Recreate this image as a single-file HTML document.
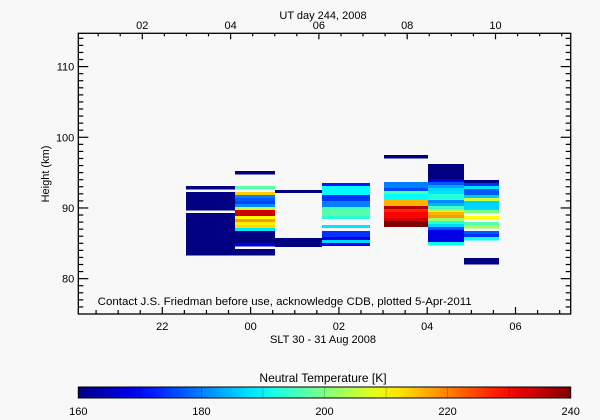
<!DOCTYPE html>
<html><head><meta charset="utf-8"><style>
html,body{margin:0;padding:0;background:#f8f8f8;}
svg{display:block;font-family:"Liberation Sans",sans-serif;}
</style></head><body>
<svg id="chart" width="600" height="420" viewBox="0 0 600 420" xmlns="http://www.w3.org/2000/svg">
<rect x="0" y="0" width="600" height="420" fill="#f8f8f8"/>
<g id="cells" shape-rendering="crispEdges"></g>
<g id="axes"></g>
<defs><linearGradient id="jet" x1="0" x2="1" y1="0" y2="0" id2="jet"></linearGradient></defs>
</svg>
<script>
// ---- data ----
const colStart = [-1.46, -0.353, 0.553, 1.617, 3.021, 4.018, 4.833];   // SLT hours (rel. to 00)
const colEnd   = [-0.353, 0.553, 1.617, 2.704, 4.018, 4.833, 5.626];
const colTop   = [93.11, 95.23, 92.55, 93.54, 97.50, 96.22, 93.96];    // km
const binSize = 0.4243; // km
const colValues = [
 [160,null,160,160,160,160,160,160,null,160,160,160,160,160,160,160,160,160,160,160,160,160,160],
 [160,null,null,null,null,197,null,214,180,177,175,181,205,234,234,210,218,211,213,188,160,160,160,160,167,null,160,160],
 [160,null,null,null,null,null,null,null,null,null,null,null,null,null,null,null,160,160,160],
 [172,190,190,190,174,174,180,180,195,197,197,193,null,null,188,null,174,174,168,187,170],
 [160,null,null,null,null,null,null,null,null,180,180,176,196,190,190,216,216,236,227,230,230,234,240,240],
 [160,160,160,160,160,168,177,183,187,188,193,193,181,184,195,205,216,218,202,193,187,176,168,168,168,168,191],
 [160,174,188,177,177,186,206,186,187,187,200,null,210,null,197,202,null,177,174,191,null,null,null,null,null,null,160,160]
];
const yTicks = [80, 90, 100, 110];
const xTicksSLT = [-2, 0, 2, 4, 6];
const xTickLabels = ["22", "00", "02", "04", "06"];
const utTicks = [2, 4, 6, 8, 10];
const utTickLabels = ["02", "04", "06", "08", "10"];
const cbTicks = [160, 180, 200, 220, 240];

const vMin = 160, vMax = 240;
const L = 78.3, R = 570.7, T = 33.3, B = 314;
const hMin = 75, hMax = 80 + (278.7 - T) / 7.07;
const sMin = -2 - (162.3 - L) / 44.15, sMax = sMin + (R - L) / 44.15;
const uMin = 2 - (142.3 - L) / 44.15, uMax = uMin + (R - L) / 44.15;
const xS = s => L + (s - sMin) / (sMax - sMin) * (R - L);
const xU = u => L + (u - uMin) / (uMax - uMin) * (R - L);
const yH = h => B - (h - hMin) / (hMax - hMin) * (B - T);

function jet(v){
  const t = Math.max(0, Math.min(1, (v - vMin) / (vMax - vMin)));
  const c = x => Math.round(255 * Math.max(0, Math.min(1, x)));
  return `rgb(${c(1.5 - Math.abs(4*t - 3))},${c(1.5 - Math.abs(4*t - 2))},${c(1.5 - Math.abs(4*t - 1))})`;
}
const NS = "http://www.w3.org/2000/svg";
function mk(tag, attrs, parent){
  const e = document.createElementNS(NS, tag);
  for (const k in attrs) e.setAttribute(k, attrs[k]);
  parent.appendChild(e); return e;
}
const cells = document.getElementById('cells');
colValues.forEach((vals, ci) => {
  vals.forEach((v, bi) => {
    if (v === null) return;
    const hTop = colTop[ci] - bi * binSize, hBot = hTop - binSize;
    const x0 = xS(colStart[ci]), x1 = xS(colEnd[ci]);
    const r = mk('rect', {x: x0, y: yH(hTop), width: x1 - x0, height: yH(hBot) - yH(hTop) + 0.3, fill: jet(v)}, cells);
    
    
  });
});

const ax = document.getElementById('axes');
const frame = mk('rect', {x: L, y: T, width: R - L, height: B - T, fill: 'none', stroke: '#000', 'stroke-width': 1.3}, ax);


const line = (x1,y1,x2,y2) => mk('line', {x1,y1,x2,y2,stroke:'#000','stroke-width':1.2}, ax);
const text = (s, x, y, anchor, size, name) => {
  const t = mk('text', {x, y, 'text-anchor': anchor, 'font-size': size, fill: '#000'}, ax);
  t.textContent = s;
  
  
  return t;
};
// y ticks
for (let h = 76; h <= 114; h++) {
  const y = yH(h), major = h % 10 === 0;
  line(L, y, L + (major ? 10 : 5), y);
  line(R, y, R - (major ? 10 : 5), y);
}
yTicks.forEach(h => text(String(h), L - 4, yH(h) + 4, 'end', 11, 'y-tick-label'));
// bottom ticks
for (let s = Math.ceil(sMin * 2) / 2; s <= sMax; s += 0.5) {
  const major = Math.abs(s % 2) < 1e-6;
  line(xS(s), B, xS(s), B - (major ? 7 : 4));
}
xTicksSLT.forEach((s, i) => text(xTickLabels[i], xS(s), 330, 'middle', 11, 'x-tick-label'));
// top ticks
for (let u = Math.ceil(uMin * 2) / 2; u <= uMax; u += 0.5) {
  const major = Math.abs(u % 2) < 1e-6;
  line(xU(u), T, xU(u), T + (major ? 6 : 3));
}
utTicks.forEach((u, i) => text(utTickLabels[i], xU(u), 29, 'middle', 11, 'top-tick-label'));
text('UT day 244, 2008', 323, 19, 'middle', 11, 'top-axis-title');
text('SLT 30 - 31 Aug 2008', 323, 343, 'middle', 11, 'x-axis-title');
const yt = text('Height (km)', 0, 0, 'middle', 11, 'y-axis-title');
yt.setAttribute('transform', 'translate(49,174) rotate(-90)');
const ct = text('Contact J.S. Friedman before use, acknowledge CDB, plotted 5-Apr-2011', 97.7, 305, 'start', 11, 'credit-note');
ct.setAttribute('textLength', '374'); ct.setAttribute('lengthAdjust', 'spacingAndGlyphs');
// colorbar
const grad = document.querySelector('linearGradient');
for (let i = 0; i <= 20; i++) mk('stop', {offset: i / 20, 'stop-color': jet(vMin + (vMax - vMin) * i / 20)}, grad);
const cb = mk('rect', {x: L, y: 387, width: R - L, height: 11, fill: 'url(#jet)', stroke: '#000', 'stroke-width': 1}, ax);


const xC = v => L + (v - vMin) / (vMax - vMin) * (R - L);
for (let v = 170; v < 240; v += 10) mk('line', {x1: xC(v), y1: 387, x2: xC(v), y2: 398, stroke: '#000', 'stroke-width': 0.4, 'stroke-opacity': 0.5}, ax);
cbTicks.forEach(v => text(String(v), xC(v), 415, 'middle', 11, 'colorbar-tick-label'));
const cbt = text('Neutral Temperature [K]', 323, 382, 'middle', 12, 'colorbar-title');
</script>
</body></html>
